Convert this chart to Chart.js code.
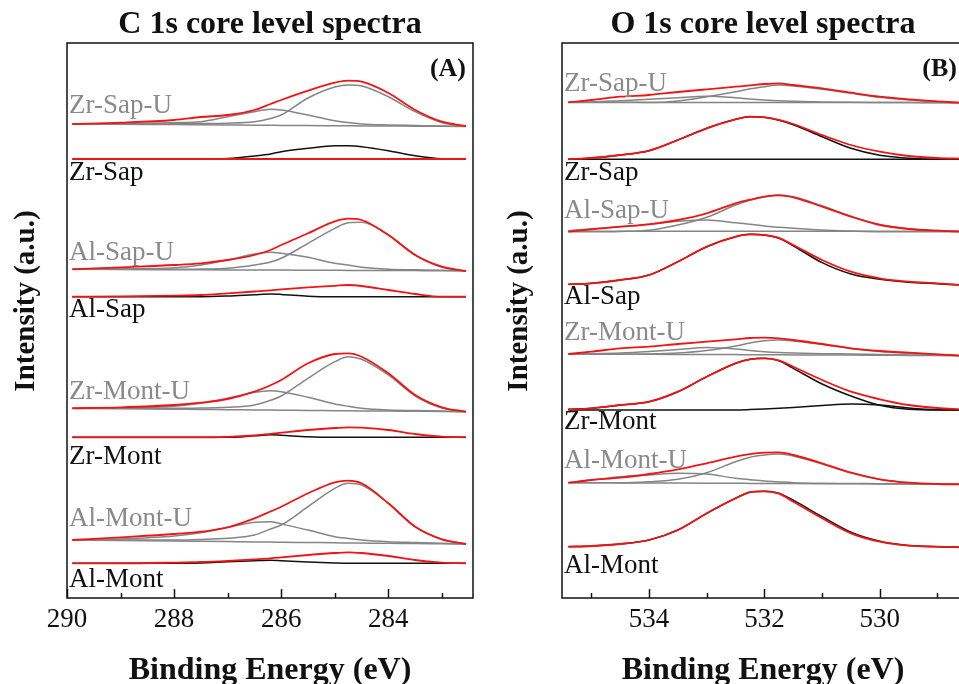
<!DOCTYPE html>
<html lang="en">
<head>
<meta charset="UTF-8">
<title>C 1s and O 1s core level spectra</title>
<script src="https://cdn.jsdelivr.net/npm/chart.js"></script>
<style>
    body { margin: 0; background: #fff; overflow: hidden; }
    .wrap { position: relative; width: 959px; height: 684px; overflow: hidden; }
    .panel { position: absolute; top: 0; width: 490px; height: 684px; }
    #panelC { left: 0; }
    #panelO { left: 492px; }
</style>
</head>
<body>
<div class="wrap">
    <div class="panel" id="panelC"><canvas id="chartC" width="490" height="684"></canvas></div>
    <div class="panel" id="panelO"><canvas id="chartO" width="490" height="684"></canvas></div>
</div>
<script>
// sample names, top to bottom
const samples = ['Zr-Sap-U', 'Zr-Sap', 'Al-Sap-U', 'Al-Sap', 'Zr-Mont-U', 'Zr-Mont', 'Al-Mont-U', 'Al-Mont'];

// ---- C 1s ----
const energyC = [289.9, 289, 288, 287.5, 287, 286.5, 286.2, 286, 285.5, 285, 284.75, 284.5, 284, 283.5, 283, 282.55];
const offsetC = [474, 439, 328.7, 301.3, 189.7, 160.7, 58, 34.7];

const cZrSapU_env = [0, 1.3, 4, 7, 9, 14, 20, 24, 33.3, 41.3, 43.3, 42.3, 31, 14, 2.3, -2];
const cZrSapU_p1  = [0, 0, 0.3, 0.5, 0.8, 2.3, 5.5, 9, 26, 37, 39, 38, 27.3, 12.3, 1.3, -2];
const cZrSapU_p2  = [0, 0.3, 1.3, 2.3, 7.3, 12.3, 14.7, 14, 9, 3.3, 1.5, 0, -1, -1.5, -2, -2.3];
const cZrSapU_bg  = [0, -0.3, -0.6, -0.8, -1, -1.2, -1.3, -1.4, -1.5, -1.7, -1.8, -1.9, -2, -2.2, -2.3, -2.5];

const cZrSap_env = [0, 0, 0, 0, 0, 0, 0, 0, 0, 0, 0, 0, 0, 0, 0, 0];
const cZrSap_p1  = [0, 0, 0, 0, 0.5, 3, 5, 7.3, 10.7, 13.3, 13.3, 12.3, 8.3, 3.3, 0.3, 0];

const cAlSapU_env = [0, 2, 4.3, 6, 9.3, 14.3, 19.3, 24.3, 36, 48, 50.6, 49.3, 34.3, 14.3, 2.6, -1.7];
const cAlSapU_p1  = [0, 0, 0, 0.3, 1, 4.3, 7.3, 11, 26, 41, 46.5, 47, 34.3, 14.3, 2, -1.7];
const cAlSapU_p2  = [0, 0.3, 1.5, 4.3, 9.3, 15.3, 17, 16, 12, 6, 4.3, 2, 0, -0.5, -1, -1.5];
const cAlSapU_bg  = [0, -0.2, -0.4, -0.5, -0.6, -0.7, -0.8, -0.8, -0.9, -1, -1.1, -1.1, -1.2, -1.3, -1.4, -1.5];

const cAlSap_env = [0, 0.3, 1, 1.7, 3.4, 5.2, 6.4, 7.4, 9.4, 10.9, 11.7, 10.7, 6.7, 2.7, 0, 0];
const cAlSap_p1  = [0, 0, 0, 0, 0.7, 2, 2.7, 2.3, 0.5, 0, 0, 0, 0, 0, 0, 0];

const cZrMontU_env = [0, 1, 3.3, 5.6, 9.3, 16.6, 23, 28.3, 45, 54.3, 55, 51.6, 35, 13.3, 1, -3.4];
const cZrMontU_p1  = [0, 0, 0, 0.3, 1, 3.3, 8, 12.3, 30, 46.6, 51.6, 49, 33.3, 12.3, 0.3, -3.4];
const cZrMontU_p2  = [0, 0.3, 2, 5, 10, 16, 17.6, 16.6, 11, 4.3, 2, 0, -1.7, -2.3, -2.8, -3.4];
const cZrMontU_bg  = [0, -0.4, -0.9, -1.1, -1.4, -1.6, -1.8, -1.9, -2.1, -2.4, -2.5, -2.6, -2.8, -3, -3.2, -3.4];

const cZrMont_env = [0, 0, 0, 0, 0.5, 2, 3.5, 4.6, 7.3, 9.3, 10, 9.6, 7.3, 3.3, 0.6, 0];
const cZrMont_p1  = [0, 0, 0, 0, 0, 1.5, 2.5, 2, 0.5, 0, 0, 0, 0, 0, 0, 0];

const cAlMontU_env = [0, 2.7, 6, 8.3, 12.7, 21.7, 28.5, 33.3, 46.7, 57.7, 59.3, 56.7, 36.7, 13.3, 0.7, -4];
const cAlMontU_p1  = [0, 0, 0, 0.5, 1.7, 5, 11, 15, 33.3, 51.7, 56.7, 55, 36.7, 13.3, 0.7, -4];
const cAlMontU_p2  = [0, 1, 4, 7.3, 12.7, 17.7, 18.3, 16, 10, 3.3, 1.5, 0, -1.7, -2.5, -3.3, -4];
const cAlMontU_bg  = [0, -0.5, -1, -1.3, -1.6, -1.9, -2.1, -2.2, -2.5, -2.8, -3, -3.1, -3.3, -3.6, -3.8, -4];

const cAlMont_env = [0, 0, 0.7, 1.3, 2.5, 4, 5, 6, 8.3, 10.3, 11, 10.3, 7.3, 3.3, 0.6, 0];
const cAlMont_p1  = [0, 0, 0, 0.3, 1.5, 2.5, 3, 2.5, 1.2, 0.3, 0, 0, 0, 0, 0, 0];

// ---- O 1s ----
const energyO = [535.4, 535, 534.5, 534, 533.5, 533, 532.5, 532.25, 532, 531.75, 531.5, 531, 530.5, 530, 529.5, 529, 528.6];
const offsetO = [495.7, 438.7, 366.3, 313.7, 244, 188.7, 115.3, 51.3];

const oZrSapU_env = [0, 2.3, 5.6, 7.3, 10.3, 13, 15.6, 16.9, 18.3, 19, 17.3, 14, 9.6, 5.6, 3, 1, -0.4];
const oZrSapU_p1  = [-0.2, -0.2, -0.2, -0.2, 1.3, 5.6, 10.6, 13.5, 15.6, 17.3, 16.3, 13, 9, 5, 2.3, 0.6, -0.4];
const oZrSapU_p2  = [0, 0.3, 1.6, 3, 4.6, 6, 4.6, 3.3, 2.3, 1.5, 1, 0.3, 0, -0.1, -0.2, -0.3, -0.4];
const oZrSapU_bg  = [0, 0, 0, -0.1, -0.1, -0.1, -0.2, -0.2, -0.2, -0.2, -0.2, -0.3, -0.3, -0.3, -0.3, -0.4, -0.4];

const oZrSap_env = [0, 1.3, 4.3, 8.6, 19.3, 31, 40, 42.6, 42, 39.5, 35.3, 24.3, 14.3, 7.6, 3.3, 1.3, 0.6];
const oZrSap_p1  = [0, 1.3, 4.3, 8.6, 19.3, 31, 40, 42.6, 42, 39, 34.5, 22.6, 11, 4, 1, 0, 0];
const oZrSap_bg  = [0, 0, 0, 0, 0, 0, 0, 0, 0, 0, 0, 0, 0, 0, 0, 0, 0];

const oAlSapU_env = [0, 2.4, 5, 7.4, 11.7, 18.4, 28.4, 32, 35, 36.4, 34.4, 25, 15, 6.7, 2.7, 1, 0];
const oAlSapU_p1  = [0, 0, 0.3, 1.5, 6.7, 14.4, 26.7, 31.5, 35, 36.7, 35, 26, 15.5, 7.3, 3, 1.3, 0.5];
const oAlSapU_p2  = [1, 3, 5, 7.4, 10.4, 11.7, 9, 7.5, 5.7, 4.5, 3.4, 1.7, 0.7, 0, 0, 0, 0];
const oAlSapU_bg  = [0.5, 0.5, 0.5, 0.5, 0.5, 0.5, 0.5, 0.5, 0.5, 0.5, 0.5, 0.5, 0.5, 0.5, 0.5, 0.5, 0.5];

const oAlSap_env = [0, 1, 4.3, 9.3, 22.6, 37.6, 47.6, 50, 49.3, 46.5, 39.3, 24.3, 12.6, 6, 2.6, 1, -0.7];
const oAlSap_p1  = [0, 1, 4.3, 9.3, 22.6, 37.6, 47.6, 50, 49.3, 46, 38.5, 21.6, 10.3, 5, 2, 0.5, -0.7];

const oZrMontU_env = [0, 2.3, 5.7, 7.3, 10, 12.3, 14.7, 16, 16.3, 15.7, 14, 10, 5.7, 3, 1.3, -0.3, -1.7];
const oZrMontU_p1  = [-0.3, -0.3, -0.3, 0, 1, 3.5, 8, 11, 13.3, 14, 13, 9.5, 5.5, 2.5, 0.7, -0.5, -1.7];
const oZrMontU_p2  = [0, 0.3, 1, 2.5, 4.5, 6.5, 5, 3.5, 2.3, 1.5, 1, 0.3, 0, -0.5, -0.9, -1.3, -1.7];
const oZrMontU_bg  = [0, -0.1, -0.2, -0.3, -0.4, -0.5, -0.6, -0.7, -0.7, -0.8, -0.9, -1, -1.1, -1.3, -1.4, -1.6, -1.7];

const oZrMont_env = [0, 1, 4.3, 7.6, 17.6, 32.6, 46, 50, 51, 49, 42.6, 29.3, 17.6, 10, 4.3, 1.3, 0];
const oZrMont_p1  = [0, 1, 4.3, 7.6, 17.6, 32.6, 46, 50, 51, 48.5, 41, 25.3, 13.3, 4, 0, -0.7, -0.7];
const oZrMont_p2  = [-0.7, -0.7, -0.7, -0.7, -0.7, -0.7, -0.7, -0.3, 0.3, 1, 1.8, 3.8, 5.3, 4.3, 1.3, -0.5, -0.7];

const oAlMontU_env = [0, 2.7, 5, 8.7, 13.4, 19.4, 26, 28.5, 30, 30.4, 27.7, 19.4, 10, 3.4, 0, -1.3, -1.6];
const oAlMontU_p1  = [0, 0, 0, 1, 3.4, 10, 21, 25.5, 27.7, 28.7, 26.7, 18.7, 10, 3.4, 0, -1.3, -1.6];
const oAlMontU_p2  = [0, 2.7, 6, 7.7, 9.4, 8.7, 4.4, 3, 1.7, 0.8, 0, -0.6, -0.8, -1, -1.2, -1.4, -1.6];
const oAlMontU_bg  = [0, -0.1, -0.2, -0.3, -0.4, -0.5, -0.6, -0.7, -0.8, -0.8, -0.9, -1, -1.1, -1.2, -1.4, -1.5, -1.6];

const oAlMont_env = [0, 0.7, 2.7, 6.7, 16.7, 33.4, 48.4, 54.5, 55.4, 53, 45, 28.4, 13.4, 5, 1, 0, -0.6];
const oAlMont_p1  = [0, 0.7, 2.7, 6.7, 16.7, 33.4, 48.4, 54.5, 55.4, 53.5, 46.5, 30, 14.5, 5.5, 1.3, 0, -0.6];

// where each sample name sits, in intensity units
const labelAtC = [492, 425, 345, 288, 206, 141, 79, 18];
const labelAtO = [514, 425, 387, 301, 265, 176, 137, 32];

const RED = '#f01414';
const GRAY = '#858585';
const BLACK = '#111';

function line(energy, values, offset, color, order, width) {
    return {
        data: energy.map((e, i) => ({ x: e, y: values[i] + offset })),
        borderColor: color,
        borderWidth: width || 1.6,
        pointRadius: 0,
        cubicInterpolationMode: 'monotone',
        fill: false,
        order: order
    };
}

// envelope in red, fitted peaks and background in gray (-U) or black
function sampleSets(energy, offset, name, env, comps) {
    const c = name.endsWith('-U') ? GRAY : BLACK;
    const sets = comps.map(v => line(energy, v, offset, c, 1, 1.5));
    sets.push(line(energy, env, offset, RED, 0, 1.8));
    return sets;
}

const setsC = [
    ...sampleSets(energyC, offsetC[0], samples[0], cZrSapU_env, [cZrSapU_bg, cZrSapU_p2, cZrSapU_p1]),
    ...sampleSets(energyC, offsetC[1], samples[1], cZrSap_env, [cZrSap_p1]),
    ...sampleSets(energyC, offsetC[2], samples[2], cAlSapU_env, [cAlSapU_bg, cAlSapU_p2, cAlSapU_p1]),
    ...sampleSets(energyC, offsetC[3], samples[3], cAlSap_env, [cAlSap_p1]),
    ...sampleSets(energyC, offsetC[4], samples[4], cZrMontU_env, [cZrMontU_bg, cZrMontU_p2, cZrMontU_p1]),
    ...sampleSets(energyC, offsetC[5], samples[5], cZrMont_env, [cZrMont_p1]),
    ...sampleSets(energyC, offsetC[6], samples[6], cAlMontU_env, [cAlMontU_bg, cAlMontU_p2, cAlMontU_p1]),
    ...sampleSets(energyC, offsetC[7], samples[7], cAlMont_env, [cAlMont_p1])
];

const setsO = [
    ...sampleSets(energyO, offsetO[0], samples[0], oZrSapU_env, [oZrSapU_bg, oZrSapU_p2, oZrSapU_p1]),
    ...sampleSets(energyO, offsetO[1], samples[1], oZrSap_env, [oZrSap_bg, oZrSap_p1]),
    ...sampleSets(energyO, offsetO[2], samples[2], oAlSapU_env, [oAlSapU_bg, oAlSapU_p2, oAlSapU_p1]),
    ...sampleSets(energyO, offsetO[3], samples[3], oAlSap_env, [oAlSap_p1]),
    ...sampleSets(energyO, offsetO[4], samples[4], oZrMontU_env, [oZrMontU_bg, oZrMontU_p2, oZrMontU_p1]),
    ...sampleSets(energyO, offsetO[5], samples[5], oZrMont_env, [oZrMont_p2, oZrMont_p1]),
    ...sampleSets(energyO, offsetO[6], samples[6], oAlMontU_env, [oAlMontU_bg, oAlMontU_p2, oAlMontU_p1]),
    ...sampleSets(energyO, offsetO[7], samples[7], oAlMont_env, [oAlMont_p1])
];

const SERIF = '"Liberation Serif", "Times New Roman", serif';

// frame, inward ticks, sample names, panel letter and the rotated y title
const spectraDecor = {
    id: 'spectraDecor',
    afterDraw(chart, args, opts) {
        const { ctx, chartArea: a, scales: { x, y } } = chart;
        ctx.save();
        ctx.strokeStyle = BLACK;
        ctx.lineWidth = 1.5;
        x.ticks.forEach(t => {
            if (!Number.isInteger(t.value)) return;
            const px = Math.round(x.getPixelForValue(t.value)) + 0.5;
            const len = t.value % 2 === 0 ? 9 : 5;
            ctx.beginPath();
            ctx.moveTo(px, a.bottom);
            ctx.lineTo(px, a.bottom - len);
            ctx.stroke();
        });
        ctx.strokeRect(a.left, a.top, a.width, a.height);

        ctx.font = '27px ' + SERIF;
        ctx.textAlign = 'left';
        ctx.textBaseline = 'middle';
        samples.forEach((name, i) => {
            ctx.fillStyle = name.endsWith('-U') ? '#8a8a8a' : BLACK;
            ctx.fillText(name, a.left + 2, y.getPixelForValue(opts.labelAt[i]));
        });

        ctx.fillStyle = BLACK;
        ctx.font = 'bold 26px ' + SERIF;
        ctx.textAlign = 'right';
        ctx.fillText(opts.letter, a.right - 7, a.top + 26);

        ctx.translate(opts.yTitleX, 301);
        ctx.rotate(-Math.PI / 2);
        ctx.font = 'bold 29px ' + SERIF;
        ctx.textAlign = 'center';
        ctx.textBaseline = 'alphabetic';
        ctx.fillText('Intensity (a.u.)', 0, 0);
        ctx.restore();
    }
};

function makeChart(id, cfg) {
    return new Chart(document.getElementById(id), {
        type: 'line',
        data: { datasets: cfg.datasets },
        plugins: [spectraDecor],
        options: {
            responsive: false,
            animation: false,
            devicePixelRatio: 1,
            layout: { padding: { left: 0, right: cfg.padRight, top: 0, bottom: 0 } },
            plugins: {
                legend: { display: false },
                tooltip: { enabled: false },
                title: {
                    display: true,
                    text: cfg.title,
                    fullSize: false,
                    color: BLACK,
                    font: { family: SERIF, size: 32, weight: 'bold', lineHeight: 1 },
                    padding: { top: 9, bottom: 2 }
                },
                spectraDecor: { labelAt: cfg.labelAt, letter: cfg.letter, yTitleX: cfg.yTitleX }
            },
            scales: {
                x: {
                    type: 'linear',
                    min: cfg.xMin,
                    max: cfg.xMax,
                    reverse: true,
                    grid: { display: false, drawTicks: false },
                    border: { display: false },
                    ticks: {
                        stepSize: 1,
                        includeBounds: false,
                        autoSkip: false,
                        maxRotation: 0,
                        padding: 6,
                        color: BLACK,
                        font: { family: SERIF, size: 27 },
                        callback: v => (v % 2 === 0 ? String(v) : '')
                    },
                    title: {
                        display: true,
                        text: 'Binding Energy (eV)',
                        color: BLACK,
                        font: { family: SERIF, size: 32, weight: 'bold', lineHeight: 0.85 },
                        padding: { top: 0, bottom: 0 }
                    },
                    afterFit: s => { s.height = 86; }
                },
                y: {
                    min: 0,
                    max: 555,
                    grid: { display: false, drawTicks: false },
                    border: { display: false },
                    ticks: { display: false },
                    afterFit: s => { s.width = cfg.yWidth; }
                }
            }
        }
    });
}

makeChart('chartC', {
    datasets: setsC,
    title: 'C 1s core level spectra',
    xMin: 282.42, xMax: 290,
    padRight: 17, yWidth: 67,
    labelAt: labelAtC, letter: '(A)', yTitleX: 34
});

makeChart('chartO', {
    datasets: setsO,
    title: 'O 1s core level spectra',
    xMin: 528.54, xMax: 535.51,
    padRight: 18, yWidth: 70,
    labelAt: labelAtO, letter: '(B)', yTitleX: 35
});
</script>
</body>
</html>
